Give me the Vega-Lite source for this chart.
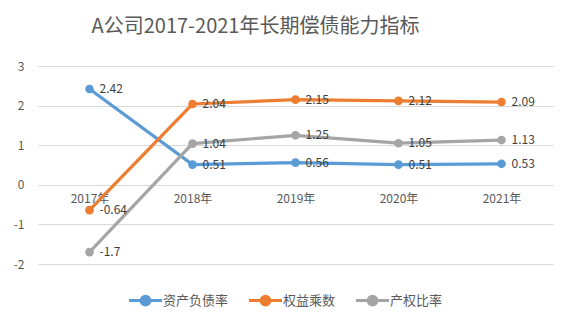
{
  "$schema": "https://vega.github.io/schema/vega-lite/v6.json",
  "width": 515,
  "height": 198,
  "autosize": {"type": "none"},
  "padding": {"left": 38, "top": 66, "right": 21, "bottom": 58},
  "background": "white",
  "title": {
    "text": "A公司2017-2021年长期偿债能力指标",
    "fontSize": 20,
    "fontWeight": "normal",
    "color": "#595959",
    "font": "Noto Sans CJK SC",
    "anchor": "middle",
    "dx": -40,
    "offset": 23
  },
  "data": {
    "values": [
      {"year": "2017年", "series": "资产负债率", "value": 2.42},
      {"year": "2018年", "series": "资产负债率", "value": 0.51},
      {"year": "2019年", "series": "资产负债率", "value": 0.56},
      {"year": "2020年", "series": "资产负债率", "value": 0.51},
      {"year": "2021年", "series": "资产负债率", "value": 0.53},
      {"year": "2017年", "series": "权益乘数", "value": -0.64},
      {"year": "2018年", "series": "权益乘数", "value": 2.04},
      {"year": "2019年", "series": "权益乘数", "value": 2.15},
      {"year": "2020年", "series": "权益乘数", "value": 2.12},
      {"year": "2021年", "series": "权益乘数", "value": 2.09},
      {"year": "2017年", "series": "产权比率", "value": -1.7},
      {"year": "2018年", "series": "产权比率", "value": 1.04},
      {"year": "2019年", "series": "产权比率", "value": 1.25},
      {"year": "2020年", "series": "产权比率", "value": 1.05},
      {"year": "2021年", "series": "产权比率", "value": 1.13}
    ]
  },
  "encoding": {
    "x": {
      "field": "year",
      "type": "nominal",
      "scale": {"type": "point", "padding": 0.5},
      "axis": {
        "title": null,
        "labelAngle": 0,
        "offset": -79,
        "ticks": false,
        "domainColor": "#d9d9d9",
        "labelColor": "#595959",
        "labelFontSize": 12,
        "labelFont": "Noto Sans CJK SC",
        "labelPadding": 8,
        "grid": false
      }
    },
    "y": {
      "field": "value",
      "type": "quantitative",
      "scale": {"domain": [-2, 3], "nice": false},
      "axis": {
        "title": null,
        "values": [-2, -1, 0, 1, 2, 3],
        "domain": false,
        "ticks": false,
        "gridColor": "#d9d9d9",
        "labelColor": "#595959",
        "labelFontSize": 12,
        "labelFont": "Noto Sans CJK SC",
        "labelPadding": 14
      }
    },
    "color": {
      "field": "series",
      "type": "nominal",
      "scale": {
        "domain": ["资产负债率", "权益乘数", "产权比率"],
        "range": ["#5B9BD5", "#ED7D31", "#A5A5A5"]
      },
      "legend": {
        "title": null,
        "orient": "none",
        "direction": "horizontal",
        "legendX": 95,
        "legendY": 222,
        "symbolType": "M-1.5,0H1.5M-0.4,0A0.4,0.4,0,1,1,0.4,0A0.4,0.4,0,1,1,-0.4,0",
        "symbolSize": 484,
        "symbolStrokeWidth": 3,
        "symbolOpacity": 1,
        "labelFontSize": 13,
        "labelFont": "Noto Sans CJK SC",
        "labelColor": "#595959",
        "labelOffset": 5,
        "columnPadding": 14
      }
    }
  },
  "layer": [
    {"mark": {"type": "line", "strokeWidth": 3.2}},
    {"mark": {"type": "point", "filled": true, "size": 75, "opacity": 1}},
    {
      "mark": {"type": "text", "align": "left", "baseline": "middle", "dx": 10, "fontSize": 12, "font": "Noto Sans CJK SC", "color": "#404040"},
      "encoding": {"text": {"field": "value", "type": "quantitative"}, "color": {"value": "#404040"}}
    }
  ],
  "config": {
    "view": {"stroke": null},
    "locale": {"number": {"decimal": ".", "thousands": ",", "grouping": [3], "currency": ["", ""], "minus": "-"}}
  }
}
